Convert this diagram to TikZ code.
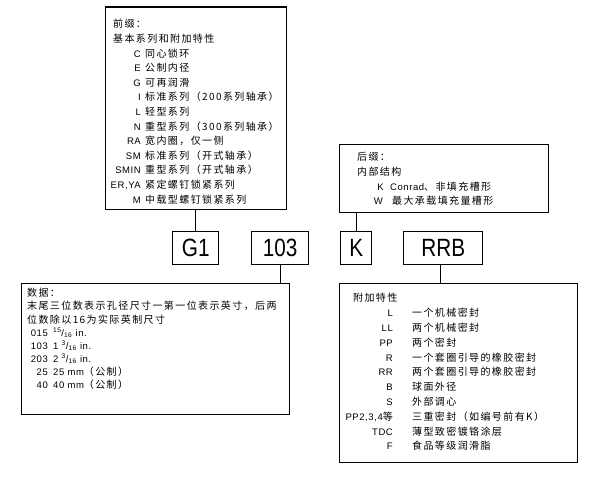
\documentclass[tikz,border=0pt]{standalone}
\usepackage{fontspec}
\usepackage{graphicx}
\setmainfont{Liberation Sans}[LetterSpace=6]
\newfontfamily\partfont{Liberation Sans}
\newfontfamily\cjk[LetterSpace=14]{Noto Sans CJK SC}
\newcommand\zhtext[1]{{\cjk\fontsize{10}{12}\selectfont #1}}
\newcommand\frc[2]{\textsuperscript{#1}/\textsubscript{#2}}

\tikzset{
  infobox/.style={draw, line width=1.4pt, anchor=north west, inner sep=0pt},
  partbox/.style={draw, line width=1.4pt, anchor=north west, inner sep=0pt,
    minimum height=33pt, font=\partfont\fontsize{25}{25}\selectfont},
  link/.style={line width=1.4pt},
  code/.style={anchor=base east, inner sep=0pt, font=\fontsize{9.5}{11}\selectfont},
  desc/.style={anchor=base west, inner sep=0pt, font=\fontsize{9.5}{11}\selectfont},
}

\begin{document}
\begin{tikzpicture}[x=1pt, y=-1pt]
  \useasboundingbox (0,0) rectangle (606,490);

  % Boxes
  \node[infobox, minimum width=181pt, minimum height=202pt] (pre) at (105,7) {};
  \node[infobox, minimum width=209pt, minimum height=68pt] (suf) at (339,144) {};
  \node[infobox, minimum width=268pt, minimum height=131pt] (num) at (21,283) {};
  \node[infobox, minimum width=238pt, minimum height=179pt] (add) at (339,283) {};
  \draw[line width=2.4pt] (pre.north west) -- (pre.north east);

  % Part number
  \node[partbox, minimum width=46pt] (g1) at (172,231) {\scalebox{0.83}[1]{G1}};
  \node[partbox, minimum width=57pt] (bore) at (251,231) {\scalebox{0.83}[1]{103}};
  \node[partbox, minimum width=31pt] (k) at (340,231) {\scalebox{0.83}[1]{K}};
  \node[partbox, minimum width=79pt] (rrb) at (403,231) {\scalebox{0.83}[1]{RRB}};

  \draw[link] (g1.north) -- (g1.north |- pre.south);
  \draw[link] (bore.south) -- (bore.south |- num.north);
  \draw[link] (k.north) -- (k.north |- suf.south);
  \draw[link] ([xshift=-3pt]rrb.south) -- ([xshift=-3pt]rrb.south |- add.north);

  % Prefix
  \node[desc] (pre-h1) at (113,27.8) {\zhtext{前缀：}};
  \node[desc] (pre-h2) at (113,42.4) {\zhtext{基本系列和附加特性}};
  \foreach \c/\d [count=\i from 2] in {C/同心锁环, E/公制内径, G/可再润滑,
      I/标准系列（200系列轴承）, L/轻型系列, N/重型系列（300系列轴承）,
      RA/宽内圈，仅一侧, SM/标准系列（开式轴承）, SMIN/重型系列（开式轴承）,
      {ER,YA}/紧定螺钉锁紧系列, M/中载型螺钉锁紧系列} {
    \node[code] (pre-c\i) at (141,{27.8+14.6*\i}) {\c};
    \node[desc] (pre-d\i) at (145,{27.8+14.6*\i}) {\zhtext{\d}};
  }

  % Suffix
  \node[desc] (suf-h1) at (357,160.8) {\zhtext{后缀：}};
  \node[desc] (suf-h2) at (357,175.4) {\zhtext{内部结构}};
  \node[code] (suf-c1) at (384,190) {K};
  \node[desc] (suf-d1) at (390,190) {Conrad\zhtext{、非填充槽形}};
  \node[code] (suf-c2) at (383,204.6) {W};
  \node[desc] (suf-d2) at (392,204.6) {\zhtext{最大承载填充量槽形}};

  % Bore
  \node[desc] (num-h1) at (27,296.8) {\zhtext{数据：}};
  \node[desc] (num-h2) at (27,309.9) {\zhtext{末尾三位数表示孔径尺寸一第一位表示英寸，后两}};
  \node[desc] (num-h3) at (27,323) {\zhtext{位数除以16为实际英制尺寸}};
  \foreach \c/\d [count=\i from 3] in {015/\frc{15}{16} in., 103/1 \frc{3}{16} in.,
      203/2 \frc{3}{16} in., 25/25 mm\zhtext{（公制）}, 40/40 mm\zhtext{（公制）}} {
    \node[code] (num-c\i) at (48,{296.8+13.1*\i}) {\c};
    \node[desc] (num-d\i) at (53,{296.8+13.1*\i}) {\d};
  }

  % Additional features
  \node[desc] (add-h) at (353,301.8) {\zhtext{附加特性}};
  \foreach \c/\d [count=\i] in {L/一个机械密封, LL/两个机械密封, PP/两个密封,
      R/一个套圈引导的橡胶密封, RR/两个套圈引导的橡胶密封, B/球面外径, S/外部调心,
      {PP2,3,4\zhtext{等}}/三重密封（如编号前有K）, TDC/薄型致密镀铬涂层,
      F/食品等级润滑脂} {
    \node[code] (add-c\i) at (393,{301.8+14.8*\i}) {\c};
    \node[desc] (add-d\i) at (412,{301.8+14.8*\i}) {\zhtext{\d}};
  }
\end{tikzpicture}
\end{document}
